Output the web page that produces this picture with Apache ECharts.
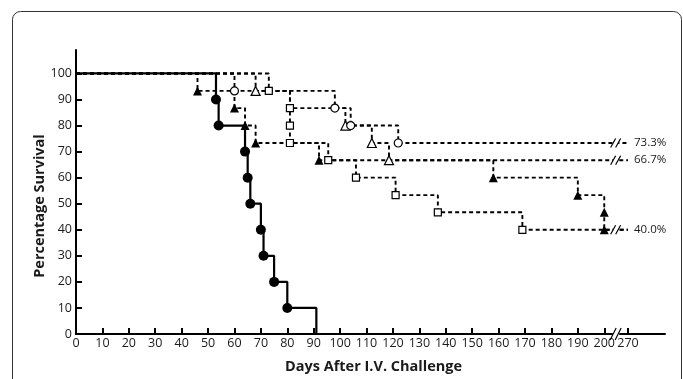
<!DOCTYPE html>
<html><head><meta charset="utf-8">
<script src="https://cdn.jsdelivr.net/npm/echarts@6/dist/echarts.min.js"></script>
<style>html,body{margin:0;padding:0;background:#fff}#c{width:683px;height:379px}</style>
</head><body><div id="c"></div>
<script>
// ---- data ----
const xTickValues = [0,10,20,30,40,50,60,70,80,90,100,110,120,130,140,150,160,170,180,190,200,270];
const yTickValues = [0,10,20,30,40,50,60,70,80,90,100];

const daysFilledCircle = [0,53,54,64,65,66,70,71,75,80,91];
const survFilledCircle = [100,90,80,70,60,50,40,30,20,10,0];

const daysFilledTri = [0,46,60,64,68,92,158,190,200,200,270];
const survFilledTri = [100,93.3,86.7,80,73.3,66.7,60,53.3,46.7,40,40];

const daysOpenSquare = [0,73,81,81,81,95.5,106,121,137,169,270];
const survOpenSquare = [100,93.3,86.7,80,73.3,66.7,60,53.3,46.7,40,40];

const daysOpenCircle = [0,60,98,104,122,270];
const survOpenCircle = [100,93.3,86.7,80,73.3,73.3];

const daysOpenTri = [0,68,81,102,112,118.5,270];
const survOpenTri = [100,93.3,86.7,80,73.3,66.7,66.7];

const endLabelOpenCircle = '73.3%';
const endLabelOpenTri = '66.7%';
const endLabelFilledTri = '40.0%';

const xTitle = 'Days After I.V. Challenge';
const yTitle = 'Percentage Survival';

// ---- chart ----
const FONT = 'Open Sans';
const TXT = '#1a1a1a';
const chart = echarts.init(document.getElementById('c'));

const squareKeys = new Set(daysOpenSquare.slice(1, -1).map((d, i) => d + '|' + survOpenSquare[i + 1]));

function buildData(days, surv, hideCoincident) {
  return days.map((d, i) => {
    const item = { value: [d, surv[i]] };
    if (i === 0 || i === days.length - 1) item.symbol = 'none';
    if (hideCoincident && squareKeys.has(d + '|' + surv[i])) item.symbol = 'none';
    return item;
  });
}

function series(name, days, surv, opts) {
  const s = {
    name, type: 'line', step: 'end',
    data: buildData(days, surv, opts.hideCoincident),
    symbol: opts.symbol, symbolSize: opts.size,
    showSymbol: true, showAllSymbol: true,
    itemStyle: opts.filled ? { color: '#000', borderColor: '#000', borderWidth: 0 }
                           : { color: '#fff', borderColor: '#000', borderWidth: 1.2 },
    lineStyle: { color: '#000', width: opts.dashed ? 1.9 : 2.2, type: opts.dashed ? [4, 3] : 'solid' },
    z: opts.z, animation: false, silent: true, clip: false
  };
  if (opts.endLabel) {
    s.endLabel = { show: true, formatter: opts.endLabel, distance: 6, color: TXT, fontSize: 11.5, fontFamily: FONT };
  }
  return s;
}

const option = {
  animation: false,
  backgroundColor: '#fff',
  grid: { left: 76, right: 18, top: 50, bottom: 44 },
  xAxis: {
    type: 'value', min: 0, max: 284,
    breaks: [{ start: 203, end: 267, gap: 3 }],
    breakArea: { show: false },
    name: xTitle, nameLocation: 'middle', nameGap: 25,
    nameTextStyle: { fontFamily: FONT, fontWeight: 'bold', fontSize: 14.5, color: TXT, padding: [0, 0, 0, 6] },
    axisLine: { show: true, lineStyle: { color: '#000', width: 2 } },
    axisTick: { show: true, inside: true, length: 6, customValues: xTickValues, lineStyle: { color: '#000', width: 2 } },
    axisLabel: { customValues: xTickValues, margin: 3, fontFamily: FONT, fontSize: 12.5, color: TXT },
    splitLine: { show: false }
  },
  yAxis: {
    type: 'value', min: 0, max: 109,
    axisLine: { show: true, lineStyle: { color: '#000', width: 2 } },
    axisTick: { show: true, inside: true, length: 6, customValues: yTickValues, lineStyle: { color: '#000', width: 2 } },
    axisLabel: { customValues: yTickValues, margin: 4, fontFamily: FONT, fontSize: 12.5, color: TXT },
    splitLine: { show: false }
  },
  series: [
    series('Open square', daysOpenSquare, survOpenSquare, { symbol: 'rect', size: 7, filled: false, dashed: true, z: 3 }),
    series('Filled triangle', daysFilledTri, survFilledTri, { symbol: 'triangle', size: 9, filled: true, dashed: true, z: 3, endLabel: endLabelFilledTri }),
    series('Open triangle', daysOpenTri, survOpenTri, { symbol: 'triangle', size: 9, filled: false, dashed: true, z: 3, endLabel: endLabelOpenTri, hideCoincident: true }),
    series('Open circle', daysOpenCircle, survOpenCircle, { symbol: 'circle', size: 8, filled: false, dashed: true, z: 3, endLabel: endLabelOpenCircle }),
    series('Filled circle', daysFilledCircle, survFilledCircle, { symbol: 'circle', size: 10, filled: true, dashed: false, z: 5 })
  ]
};
chart.setOption(option);

// ---- decorations: frame, y title and "//" break marks ----
const px200 = chart.convertToPixel({ xAxisIndex: 0 }, 200);
const px270 = chart.convertToPixel({ xAxisIndex: 0 }, 270);
const bx = (px200 + px270) / 2 + 1;
const gfx = [];
gfx.push({ type: 'rect', z: 200, shape: { x: 12.5, y: 11.5, width: 669, height: 420, r: 8 },
  style: { fill: 'none', stroke: '#333', lineWidth: 1 } });
gfx.push({ type: 'text', z: 200, x: 40, y: 206, rotation: Math.PI / 2,
  style: { text: yTitle, fontFamily: FONT, fontWeight: 'bold', fontSize: 14.5, fill: TXT, align: 'center', verticalAlign: 'middle' } });
function slashes(y, h, w) {
  gfx.push({ type: 'rect', z: 200, shape: { x: bx - 4, y: y - 3, width: 5, height: 6 }, style: { fill: '#fff' } });
  gfx.push({ type: 'line', z: 201, shape: { x1: bx - 4 - w / 2, y1: y + h / 2, x2: bx - 4 + w / 2, y2: y - h / 2 }, style: { stroke: '#000', lineWidth: 1.2 } });
  gfx.push({ type: 'line', z: 201, shape: { x1: bx + 1 - w / 2, y1: y + h / 2, x2: bx + 1 + w / 2, y2: y - h / 2 }, style: { stroke: '#000', lineWidth: 1.2 } });
}
[survOpenCircle[survOpenCircle.length - 1], survOpenTri[survOpenTri.length - 1], survFilledTri[survFilledTri.length - 1]]
  .forEach(v => slashes(chart.convertToPixel({ yAxisIndex: 0 }, v), 9, 5));
slashes(chart.convertToPixel({ yAxisIndex: 0 }, 0), 12, 6);
chart.setOption({ graphic: gfx });
</script></body></html>
